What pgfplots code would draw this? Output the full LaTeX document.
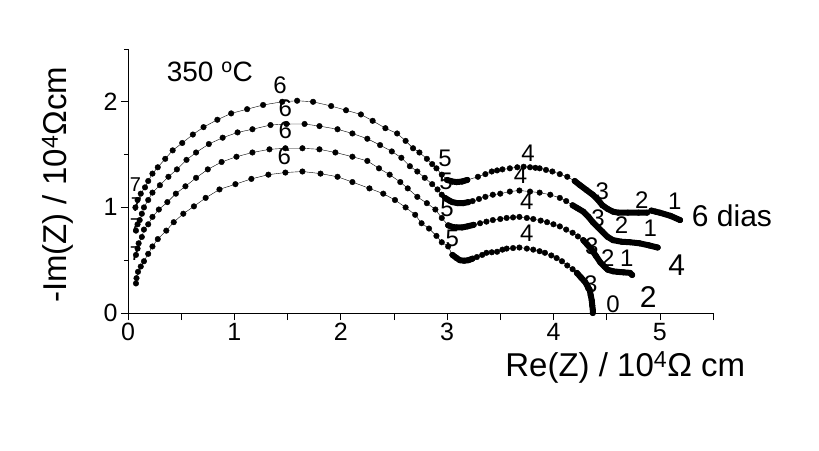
\documentclass[border=0pt]{standalone}
\usepackage{pgfplots}
\usepackage{pgfplotstable}
\usepackage{fontspec}
\setmainfont{Liberation Sans}
\pgfplotsset{compat=1.18}

% impedance spectra, x y in 10^4 Ohm cm
\pgfplotstableread{
x y
0.07 1.00
0.09 1.07
0.12 1.13
0.16 1.19
0.19 1.25
0.23 1.32
0.28 1.38
0.35 1.46
0.42 1.54
0.51 1.61
0.61 1.69
0.71 1.76
0.84 1.83
0.97 1.89
1.12 1.93
1.27 1.97
1.45 2.00
1.59 2.01
1.74 2.00
1.91 1.96
2.05 1.92
2.19 1.88
2.30 1.82
2.42 1.75
2.53 1.70
2.61 1.63
2.68 1.56
2.74 1.52
2.81 1.46
2.86 1.41
2.90 1.37
2.95 1.31
3.00 1.26
3.05 1.245
3.09 1.24
3.14 1.245
3.19 1.26
3.29 1.29
3.36 1.315
3.42 1.34
3.47 1.35
3.52 1.36
3.59 1.37
3.66 1.38
3.72 1.385
3.78 1.38
3.83 1.375
3.87 1.37
3.93 1.355
3.99 1.34
4.06 1.315
4.13 1.29
4.20 1.25
4.25 1.21
4.31 1.165
4.37 1.12
4.42 1.07
4.46 1.02
4.51 0.985
4.56 0.96
4.61 0.95
4.70 0.95
4.80 0.95
4.88 0.95
4.92 0.97
4.96 0.96
5.00 0.95
5.10 0.92
5.19 0.88
}\dseis

\pgfplotstableread{
x y
0.075 0.78
0.09 0.84
0.11 0.88
0.13 0.94
0.15 1.00
0.19 1.07
0.23 1.14
0.30 1.21
0.38 1.29
0.46 1.36
0.55 1.45
0.64 1.52
0.76 1.60
0.89 1.66
1.03 1.71
1.17 1.74
1.34 1.78
1.49 1.79
1.66 1.79
1.80 1.77
1.97 1.74
2.11 1.70
2.25 1.65
2.37 1.59
2.48 1.53
2.57 1.47
2.65 1.39
2.72 1.34
2.79 1.28
2.86 1.22
2.91 1.17
2.95 1.12
2.98 1.09
3.02 1.065
3.05 1.05
3.10 1.04
3.15 1.04
3.20 1.05
3.24 1.06
3.30 1.08
3.36 1.10
3.43 1.12
3.50 1.13
3.59 1.15
3.68 1.16
3.78 1.15
3.87 1.14
3.97 1.12
4.06 1.09
4.12 1.06
4.18 1.02
4.23 0.99
4.28 0.96
4.33 0.91
4.37 0.86
4.42 0.81
4.46 0.77
4.51 0.72
4.56 0.69
4.64 0.675
4.72 0.67
4.81 0.66
4.90 0.64
4.98 0.62
}\dquatro

\pgfplotstableread{
x y
0.075 0.55
0.09 0.61
0.10 0.66
0.13 0.72
0.15 0.79
0.19 0.84
0.23 0.91
0.29 0.98
0.37 1.05
0.45 1.13
0.54 1.20
0.64 1.28
0.75 1.36
0.88 1.43
1.02 1.48
1.17 1.52
1.33 1.55
1.48 1.56
1.64 1.56
1.80 1.55
1.95 1.52
2.11 1.48
2.25 1.44
2.36 1.37
2.46 1.31
2.56 1.24
2.63 1.18
2.72 1.10
2.81 1.04
2.89 0.98
2.95 0.90
3.01 0.83
3.05 0.815
3.09 0.81
3.14 0.81
3.19 0.82
3.25 0.835
3.31 0.85
3.37 0.865
3.43 0.88
3.50 0.89
3.56 0.90
3.62 0.905
3.68 0.91
3.75 0.90
3.81 0.89
3.88 0.875
3.94 0.86
4.00 0.84
4.06 0.82
4.12 0.79
4.18 0.76
4.23 0.725
4.28 0.69
4.32 0.645
4.36 0.60
4.40 0.54
4.44 0.48
4.48 0.44
4.51 0.41
4.56 0.395
4.60 0.39
4.66 0.385
4.72 0.38
4.74 0.36
}\ddois

\pgfplotstableread{
x y
0.075 0.28
0.08 0.33
0.094 0.39
0.12 0.44
0.15 0.49
0.19 0.56
0.23 0.63
0.28 0.70
0.36 0.78
0.43 0.86
0.52 0.94
0.62 1.01
0.73 1.09
0.86 1.17
1.01 1.22
1.16 1.27
1.32 1.31
1.48 1.33
1.64 1.34
1.81 1.32
1.97 1.29
2.11 1.24
2.27 1.18
2.40 1.13
2.51 1.07
2.61 1.00
2.70 0.93
2.76 0.85
2.83 0.80
2.90 0.73
2.95 0.67
3.01 0.63
3.05 0.55
3.09 0.52
3.12 0.50
3.16 0.495
3.20 0.50
3.24 0.515
3.28 0.53
3.33 0.55
3.37 0.57
3.42 0.575
3.47 0.58
3.52 0.60
3.56 0.61
3.62 0.615
3.68 0.62
3.75 0.61
3.81 0.60
3.87 0.585
3.92 0.57
3.98 0.545
4.03 0.52
4.08 0.49
4.13 0.45
4.18 0.415
4.22 0.38
4.26 0.335
4.30 0.29
4.32 0.255
4.34 0.22
4.35 0.17
4.36 0.12
4.365 0.07
4.37 0.03
4.37 0.00
}\dzero

\pgfplotsset{
  dots/.style={black, line width=0.4pt, mark=*, mark size=2.8pt},
  dense/.style={black, line width=6pt, no marks, line cap=round, line join=round},
}
\tikzset{
  lbl/.style={font=\fontsize{24}{24}\selectfont, inner sep=0pt, text height=0.7em, text depth=0pt, yshift=-3pt},
  sevenlbl/.style={font=\fontsize{20}{20}\selectfont, inner sep=0pt, text height=0.7em, text depth=0pt},
  endlbl/.style={font=\fontsize{30}{30}\selectfont, inner sep=0pt},
}

\begin{document}
\begin{tikzpicture}
\path[use as bounding box] (0,0) rectangle (819pt,450pt);
\begin{axis}[
    at={(128pt,137pt)}, anchor=south west,
    scale only axis, width=585pt, height=264pt,
    xmin=0, xmax=5.5, ymin=0, ymax=2.5,
    axis x line*=bottom, axis y line*=left,
    axis line style={-, line width=0.6pt},
    xtick={0,1,2,3,4,5}, ytick={0,1,2},
    extra x ticks={0.5,1.5,2.5,3.5,4.5,5.5}, extra x tick labels={},
    minor ytick={0.5,1.5,2.5},
    tick align=outside, major tick length=7pt, minor tick length=4pt,
    tick style={black, line width=0.6pt},
    /pgf/number format/assume math mode=true,
    ticklabel style={font=\fontsize{25}{25}\selectfont},
    xlabel={Re(Z) / 10\textsuperscript{4}Ω cm},
    ylabel={-Im(Z) / 10\textsuperscript{4}Ωcm},
    label style={font=\fontsize{33}{33}\selectfont},
    xlabel style={at={(axis description cs:0.85,-0.208)}, anchor=center},
    ylabel style={at={(axis description cs:-0.12,0.485)}, anchor=center},
    clip=false,
]
\addplot[dots] table {\dseis};
\addplot[dots] table {\dquatro};
\addplot[dots] table {\ddois};
\addplot[dots] table {\dzero};

\addplot[dense, restrict x to domain=2.99:3.2] table {\dseis};
\addplot[dense, restrict x to domain=4.2:4.89] table {\dseis};
\addplot[dense, restrict x to domain=4.91:5.2] table {\dseis};
\addplot[dense, restrict x to domain=2.97:3.21] table {\dquatro};
\addplot[dense, restrict x to domain=4.17:4.99] table {\dquatro};
\addplot[dense, restrict x to domain=3.0:3.26] table {\ddois};
\addplot[dense, restrict x to domain=4.27:4.75] table {\ddois};
\addplot[dense, restrict x to domain=3.04:3.25] table {\dzero};
\addplot[dense, restrict x to domain=4.21:4.38] table {\dzero};

\node[font=\fontsize{28}{28}\selectfont] at (axis cs:0.77,2.28) {350 \textsuperscript{o}C};

\node[lbl] at (axis cs:1.43,2.14) {6};
\node[lbl] at (axis cs:1.48,1.92) {6};
\node[lbl] at (axis cs:1.48,1.71) {6};
\node[lbl] at (axis cs:1.47,1.47) {6};

\node[lbl] at (axis cs:2.98,1.45) {5};
\node[lbl] at (axis cs:2.99,1.23) {5};
\node[lbl] at (axis cs:3.00,0.98) {5};
\node[lbl] at (axis cs:3.05,0.69) {5};

\node[lbl] at (axis cs:3.76,1.50) {4};
\node[lbl] at (axis cs:3.69,1.29) {4};
\node[lbl] at (axis cs:3.75,1.04) {4};
\node[lbl] at (axis cs:3.75,0.74) {4};

\node[lbl] at (axis cs:4.46,1.14) {3};
\node[lbl] at (axis cs:4.42,0.88) {3};
\node[lbl] at (axis cs:4.36,0.62) {3};
\node[lbl] at (axis cs:4.35,0.26) {3};

\node[lbl] at (axis cs:4.83,1.05) {2};
\node[lbl] at (axis cs:4.64,0.81) {2};
\node[lbl] at (axis cs:4.51,0.50) {2};

\node[lbl] at (axis cs:5.14,1.04) {1};
\node[lbl] at (axis cs:4.91,0.79) {1};
\node[lbl] at (axis cs:4.69,0.50) {1};
\node[lbl] at (axis cs:4.56,0.07) {0};

\node[sevenlbl] at (axis cs:0.07,1.18) {7};
\node[sevenlbl] at (axis cs:0.08,0.99) {7};
\node[sevenlbl] at (axis cs:0.07,0.80) {7};
\node[sevenlbl] at (axis cs:0.07,0.53) {7};

\node[endlbl, anchor=west] at (axis cs:5.30,0.92) {6 dias};
\node[endlbl] at (axis cs:5.16,0.45) {4};
\node[endlbl] at (axis cs:4.89,0.15) {2};
\end{axis}
\end{tikzpicture}
\end{document}
